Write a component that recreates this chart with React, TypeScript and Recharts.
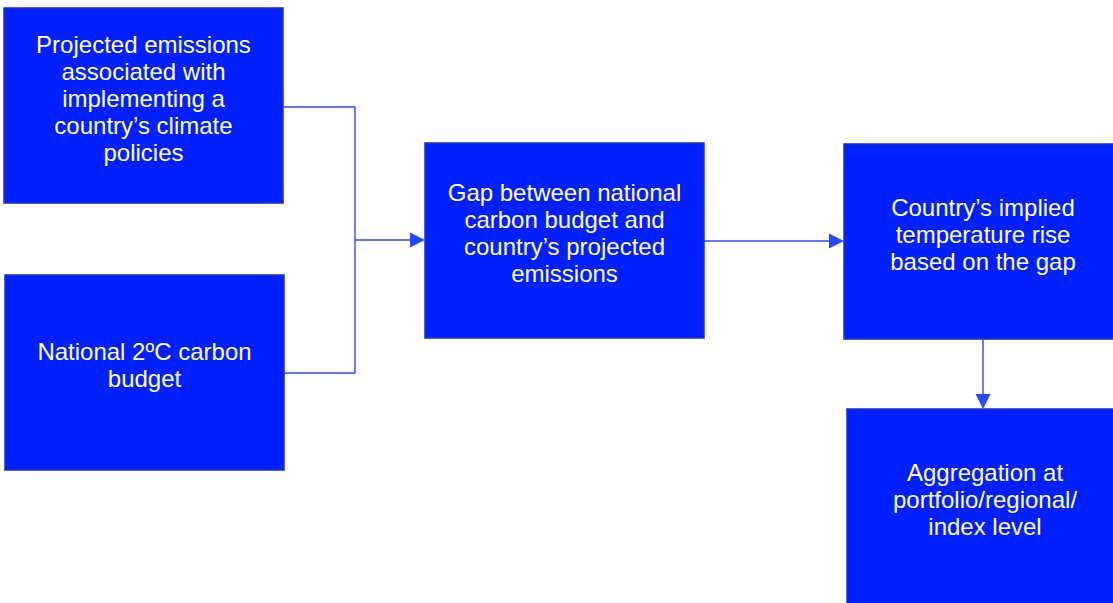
import React from 'react'
import { ReferenceArea, ReferenceLine, Scatter, ScatterChart, XAxis, YAxis } from 'recharts'

// diagram coordinates are in picture pixels (0..1113 across, 0..603 down)
const boxes = [
  { id: 'projected', x1: 4, x2: 283, y1: 8, y2: 203, lines: ['Projected emissions', 'associated with', 'implementing a', 'country\u2019s climate', 'policies'] },
  { id: 'budget', x1: 5, x2: 284, y1: 275, y2: 470, lines: ['National 2\u00baC carbon', 'budget'] },
  { id: 'gap', x1: 425, x2: 704, y1: 143, y2: 338, lines: ['Gap between national', 'carbon budget and', 'country\u2019s projected', 'emissions'] },
  { id: 'temperature', x1: 844, x2: 1122, y1: 144, y2: 339, lines: ['Country\u2019s implied', 'temperature rise', 'based on the gap'] },
  { id: 'aggregation', x1: 847, x2: 1123, y1: 409, y2: 604, lines: ['Aggregation at', 'portfolio/regional/', 'index level'] },
]

const connectors = [
  [{ x: 283, y: 107 }, { x: 355, y: 107 }],
  [{ x: 355, y: 107 }, { x: 355, y: 373 }],
  [{ x: 284, y: 373 }, { x: 355, y: 373 }],
  [{ x: 355, y: 240 }, { x: 412, y: 240 }],
  [{ x: 704, y: 241 }, { x: 832, y: 241 }],
  [{ x: 983, y: 339 }, { x: 983, y: 396 }],
]

const arrowTips = [
  { x: 425, y: 240, dir: 'right' },
  { x: 844, y: 241, dir: 'right' },
  { x: 983, y: 409, dir: 'down' },
]

const BOX_FILL = '#0020ff'
const BOX_EDGE = '#1a2fc4'
const LINE_COLOR = '#2a48ff'
const FONT = '"Liberation Sans", Arial, sans-serif'

function BoxLabel({ viewBox, lines }: any) {
  if (!viewBox) return null
  const { x, y, width, height } = viewBox
  const cx = x + width / 2
  const cy = y + height / 2 - 7.5
  const lh = 27
  const top = cy - ((lines.length - 1) * lh) / 2
  return (
    <text x={cx} textAnchor="middle" fill="#ffffff" fontFamily={FONT} fontSize={24}>
      {lines.map((line: string, i: number) => (
        <tspan key={i} x={cx} y={top + i * lh} dominantBaseline="central">
          {line}
        </tspan>
      ))}
    </text>
  )
}

function ArrowHead(props: any) {
  const { cx, cy, payload } = props
  if (cx == null || cy == null) return null
  const len = 15
  const half = 7.5
  const pts =
    payload.dir === 'down'
      ? `${cx},${cy} ${cx - half},${cy - len} ${cx + half},${cy - len}`
      : `${cx},${cy} ${cx - len},${cy - half} ${cx - len},${cy + half}`
  return <polygon points={pts} fill={LINE_COLOR} />
}

export default function App() {
  return (
    <div style={{ position: 'fixed', left: 0, top: 0, width: 1113, height: 603, background: '#ffffff' }}>
      <ScatterChart width={1113} height={603} margin={{ top: 0, right: 0, bottom: 0, left: 0 }}>
        <XAxis type="number" dataKey="x" domain={[0, 1113]} allowDataOverflow hide />
        <YAxis type="number" dataKey="y" domain={[0, 603]} reversed allowDataOverflow hide />
        {connectors.map((seg, i) => (
          <ReferenceLine key={i} segment={seg} stroke={LINE_COLOR} strokeWidth={1.4} ifOverflow="visible" />
        ))}
        {boxes.map((b) => (
          <ReferenceArea
            key={b.id}
            x1={b.x1}
            x2={b.x2}
            y1={b.y1}
            y2={b.y2}
            fill={BOX_FILL}
            fillOpacity={1}
            stroke={BOX_EDGE}
            strokeWidth={1.5}
            ifOverflow="hidden"
            label={<BoxLabel lines={b.lines} />}
          />
        ))}
        <Scatter data={arrowTips} shape={<ArrowHead />} isAnimationActive={false} />
      </ScatterChart>
    </div>
  )
}
